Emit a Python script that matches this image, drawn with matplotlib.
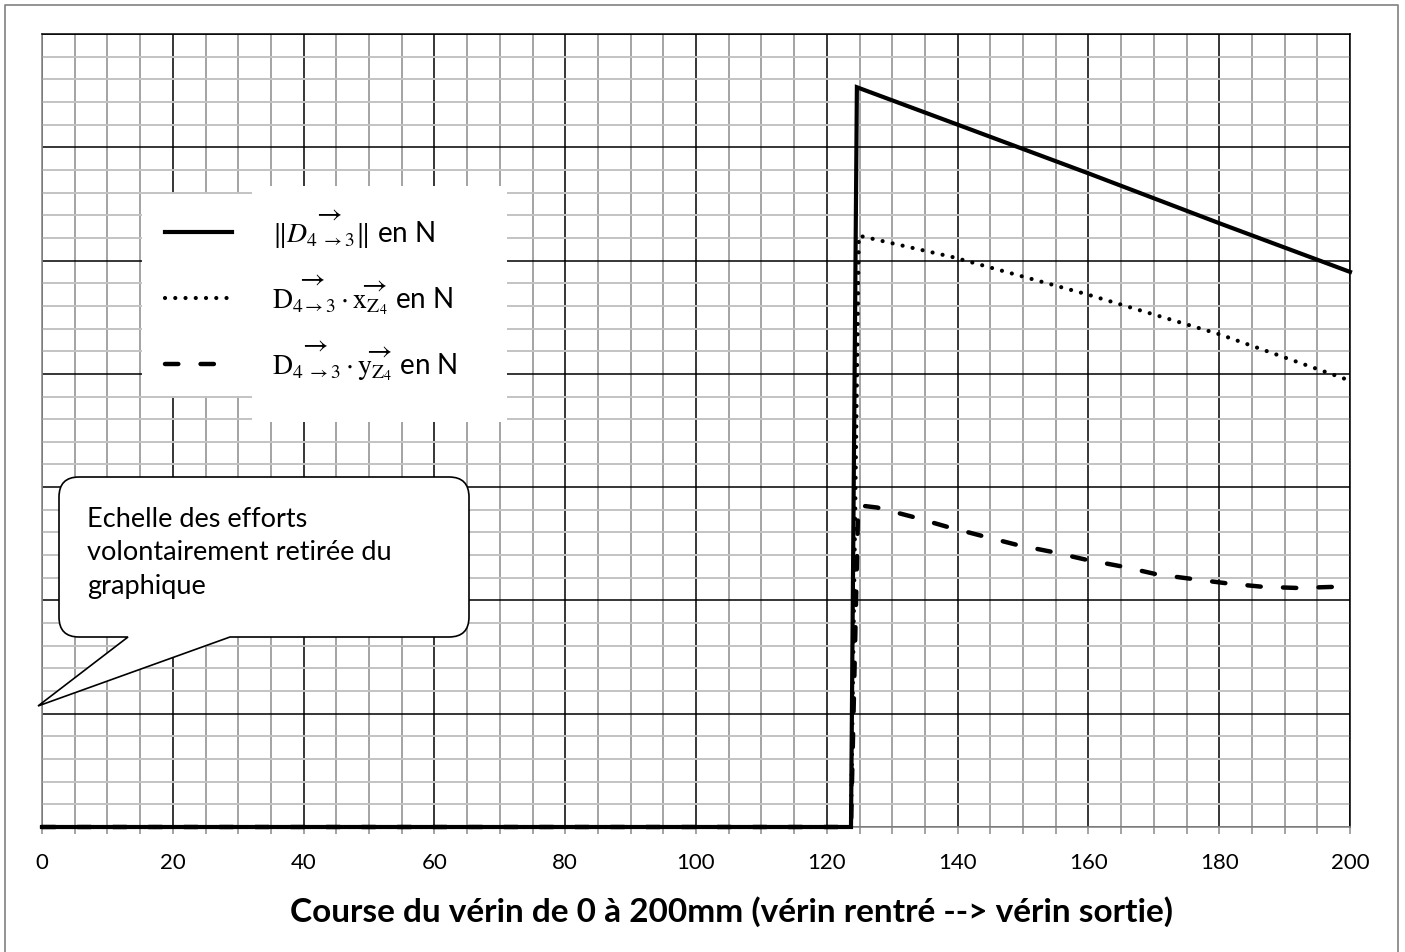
import numpy as np
import matplotlib
matplotlib.use("Agg")
import matplotlib.pyplot as plt
from matplotlib.ticker import MultipleLocator
from matplotlib.patches import Rectangle, PathPatch
from matplotlib.path import Path
from matplotlib.transforms import Affine2D
from matplotlib.lines import Line2D

plt.rcParams["font.family"] = ["Lato", "DejaVu Sans"]
plt.rcParams["mathtext.fontset"] = "stix"

###############################################################################
# Data (course in mm, efforts in arbitrary units: 1 unit = 1 major grid row)
###############################################################################
x_norme = [0, 123.7, 124.6, 140, 160, 180, 200]
y_norme = [0, 0, 6.53, 6.20, 5.77, 5.33, 4.90]

x_xz = [0, 123.7, 124.9, 139.3, 159.9, 180.0, 200]
y_xz = [0, 0, 5.22, 5.03, 4.70, 4.35, 3.94]

x_yz = [0, 123.7, 124.8, 127.7, 133.0, 138.4, 143.7, 149.1, 154.3, 159.6,
        165.1, 170.5, 175.8, 181.3, 186.7, 192.0, 197.7, 200]
y_yz = [0, 0, 2.84, 2.82, 2.74, 2.65, 2.57, 2.49, 2.43, 2.36,
        2.30, 2.23, 2.19, 2.15, 2.12, 2.11, 2.12, 2.13]

labels = [
    r"$\Vert\overrightarrow{D_{4\ \rightarrow 3}}\Vert$ en N",
    r"$\overrightarrow{\mathrm{D}_{4\rightarrow 3}}\cdot\overrightarrow{\mathrm{x}_{\mathrm{Z}_4}}$ en N",
    r"$\overrightarrow{\mathrm{D}_{4\ \rightarrow 3}}\cdot\overrightarrow{\mathrm{y}_{\mathrm{Z}_4}}$ en N",
]
xlabel = "Course du vérin de 0 à 200mm (vérin rentré --> vérin sortie)"
note = "Echelle des efforts\nvolontairement retirée du\ngraphique"

###############################################################################
# Figure
###############################################################################
W, H = 1405, 953
fig = plt.figure(figsize=(W / 100, H / 100), dpi=100)
pix = Affine2D().scale(1, -1).translate(0, H)  # pixel coords, origin top-left

ax = fig.add_axes([42 / W, 1 - 828 / H, (1350 - 42) / W, (828 - 35) / H])
ax.set_xlim(0, 200)
ax.set_ylim(0, 7)
ax.xaxis.set_major_locator(MultipleLocator(20))
ax.xaxis.set_minor_locator(MultipleLocator(5))
ax.yaxis.set_major_locator(MultipleLocator(1))
ax.yaxis.set_minor_locator(MultipleLocator(0.2))
ax.set_axisbelow(True)
ax.grid(which="minor", axis="y", color="#c3c3c3", lw=1.4)
ax.grid(which="minor", axis="x", color="#8a8a8a", lw=1.1)
ax.grid(which="major", axis="both", color="black", lw=1.1)
ax.tick_params(axis="y", which="both", length=0, labelleft=False)
ax.tick_params(axis="x", which="both", direction="out", length=5,
               width=1.1, color="#8a8a8a", labelsize=16, pad=13)
for s in ("left", "bottom"):
    ax.spines[s].set_color("#8a8a8a")
    ax.spines[s].set_linewidth(1.2)
for s in ("top", "right"):
    ax.spines[s].set_color("black")
    ax.spines[s].set_linewidth(1.1)

l_yz, = ax.plot(x_yz, y_yz, color="black", lw=3.2, ls=(0, (3.0, 5.0)),
                dash_capstyle="round", zorder=3, clip_on=False)
l_xz, = ax.plot(x_xz, y_xz, color="black", lw=3.0, ls=(0, (0.01, 2.45)),
                dash_capstyle="round", zorder=3, clip_on=False)
l_n, = ax.plot(x_norme, y_norme, color="black", lw=3.0, zorder=4,
               solid_joinstyle="miter", clip_on=False)

# white background of the legend
for (x0, y0, x1, y1) in [(142, 195, 507, 397), (252, 187, 507, 423)]:
    ax.add_patch(Rectangle((x0, y1), x1 - x0, y0 - y1, transform=pix,
                           facecolor="white", edgecolor="none",
                           clip_on=False, zorder=4.5))
leg = ax.legend([l_n, l_xz, l_yz], labels, loc="upper left",
                bbox_to_anchor=(146 / W, 1 - 189 / H),
                bbox_transform=fig.transFigure, frameon=False,
                fontsize=20, handlelength=2.4, handletextpad=1.44,
                labelspacing=0.81, borderpad=0.2)
leg.set_zorder(5)

# callout bubble
L, R, T, B, r = 59, 469, 478, 638, 20
verts = [(L + r, T), (R - r, T), (R, T), (R, T + r), (R, B - r), (R, B),
         (R - r, B), (230, B), (38, 707), (128, B), (L + r, B), (L, B),
         (L, B - r), (L, T + r), (L, T), (L + r, T), (L + r, T)]
codes = [Path.MOVETO, Path.LINETO, Path.CURVE3, Path.CURVE3, Path.LINETO,
         Path.CURVE3, Path.CURVE3, Path.LINETO, Path.LINETO, Path.LINETO,
         Path.LINETO, Path.CURVE3, Path.CURVE3, Path.LINETO, Path.CURVE3,
         Path.CURVE3, Path.CLOSEPOLY]
ax.add_patch(PathPatch(Path(verts, codes), transform=pix, facecolor="white",
                       edgecolor="black", lw=1.2, clip_on=False, zorder=6))
ax.text(87, 507, note, transform=pix, fontsize=19.5, va="top", ha="left",
        linespacing=1.42, zorder=7)

fig.text(290 / W, 1 - 922 / H, xlabel, ha="left", va="baseline",
         fontsize=24, fontweight="bold")

# outer frame
fig.add_artist(Line2D([5, 5, 1398, 1398], [960, 6, 6, 960], transform=pix,
                      color="#8a8a8a", lw=1.3))

fig.savefig("out.png", dpi=100, facecolor="white")
